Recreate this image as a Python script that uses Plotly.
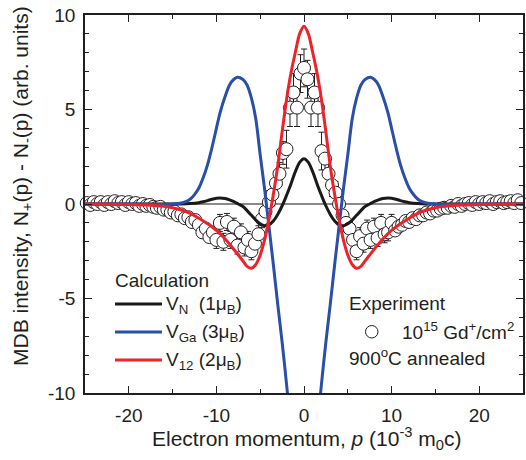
import plotly.graph_objects as go

# ---------------- data ----------------
P_EXP = [-25.6, -25.2, -24.8, -24.4, -24.0, -23.6, -23.2, -22.8, -22.4, -22.0, -21.6, -21.2,
         -20.8, -20.4, -20.0, -19.6, -19.2, -18.8, -18.4, -18.0, -17.6, -17.2,
         -16.8, -16.4, -16.0, -15.6, -15.2, -14.8, -14.4, -14.0, -13.6, -13.2,
         -12.8, -12.4, -12.0, -11.6, -11.2, -10.8, -10.4, -10.0, -9.6, -9.2,
         -8.8, -8.4, -8.0, -7.6, -7.2, -6.8, -6.4, -6.0, -5.6, -5.2,
         -4.8, -4.4, -4.0, -3.6, -3.2, -2.8, -2.4, -2.0, -1.6, -1.2,
         -0.8, -0.4, 0.0, 0.4, 0.8, 1.2, 1.6, 2.0, 2.4, 2.8,
         3.2, 3.6, 4.0, 4.4, 4.8, 5.2, 5.6, 6.0, 6.4, 6.8,
         7.2, 7.6, 8.0, 8.4, 8.8, 9.2, 9.6, 10.0, 10.4, 10.8,
         11.2, 11.6, 12.0, 12.4, 12.8, 13.2, 13.6, 14.0, 14.4, 14.8,
         15.2, 15.6, 16.0, 16.4, 16.8, 17.2, 17.6, 18.0, 18.4, 18.8,
         19.2, 19.6, 20.0, 20.4, 20.8, 21.2, 21.6, 22.0, 22.4, 22.8,
         23.2, 23.6, 24.0, 24.4, 24.8, 25.2]

Y_EXP = [0.0, 0.1, 0.05, -0.05, 0.1, 0.0, 0.1, -0.05, 0.1, 0.0, 0.15, 0.05,
         0.1, -0.05, 0.1, 0.0, 0.05, -0.1, 0.0, -0.1, -0.05, -0.15,
         -0.2, -0.15, -0.3, -0.3, -0.45, -0.4, -0.6, -0.55, -0.75, -0.7,
         -0.95, -0.85, -1.1, -1.5, -1.3, -1.75, -1.5, -1.9, -1.0, -2.0,
         -0.95, -1.9, -1.2, -2.2, -1.5, -2.3, -1.9, -2.5, -2.1, -1.6,
         -0.8, -0.4, 0.1, 0.5, 1.1, 1.6, 2.7, 2.9, 5.1, 5.9,
         5.1, 6.9, 7.2, 6.6, 5.1, 5.9, 5.1, 2.8, 2.4, 1.6,
         1.0, 0.6, 0.0, -0.6, -1.0, -1.3, -1.9, -2.5, -1.7, -2.1,
         -1.3, -1.9, -1.2, -1.8, -1.0, -1.6, -1.5, -1.0, -1.4, -1.2,
         -1.1, -0.9, -0.95, -0.75, -0.8, -0.6, -0.6, -0.45, -0.5, -0.35,
         -0.35, -0.25, -0.2, -0.2, -0.1, -0.15, 0.0, -0.1, 0.0, 0.05,
         -0.05, 0.1, 0.0, 0.1, 0.05, 0.15, 0.0, 0.1, 0.15, 0.05,
         0.1, 0.15, 0.05, 0.2, 0.05, 0.1]

ERR_EXP = [0.15, 0.15, 0.15, 0.15, 0.15, 0.15, 0.15, 0.15, 0.15, 0.15, 0.15, 0.15,
           0.15, 0.15, 0.15, 0.15, 0.15, 0.15, 0.15, 0.15, 0.15, 0.15,
           0.15, 0.15, 0.25, 0.25, 0.25, 0.25, 0.25, 0.25, 0.25, 0.25,
           0.25, 0.25, 0.25, 0.25, 0.25, 0.25, 0.25, 0.45, 0.45, 0.45,
           0.45, 0.45, 0.45, 0.45, 0.45, 0.45, 0.45, 0.45, 0.45, 0.45,
           0.45, 0.45, 0.6, 0.6, 0.6, 0.6, 0.6, 1.0, 1.0, 1.0,
           1.0, 1.0, 1.0, 1.0, 1.0, 1.0, 1.0, 1.0, 0.6, 0.6,
           0.6, 0.6, 0.6, 0.45, 0.45, 0.45, 0.45, 0.45, 0.45, 0.45,
           0.45, 0.45, 0.45, 0.45, 0.45, 0.45, 0.45, 0.45, 0.25, 0.25,
           0.25, 0.25, 0.25, 0.25, 0.25, 0.25, 0.25, 0.25, 0.25, 0.25,
           0.25, 0.25, 0.25, 0.15, 0.15, 0.15, 0.15, 0.15, 0.15, 0.15,
           0.15, 0.15, 0.15, 0.15, 0.15, 0.15, 0.15, 0.15, 0.15, 0.15,
           0.15, 0.15, 0.15, 0.15, 0.15, 0.15]

# calculated curves (half, p >= 0; curves are symmetric in p)
P_VN = [0.0, 0.5, 1.0, 1.5, 2.0, 2.4, 3.0, 3.5, 4.0, 4.5, 5.0, 5.5, 6.0, 6.5,
        7.0, 7.5, 8.0, 8.5, 9.0, 9.6, 10.0, 10.5, 11.0, 11.5, 12.0, 13.0, 14.0, 20.0, 25.0]
Y_VN = [2.4, 2.2, 1.7, 1.05, 0.45, 0.0, -0.55, -0.9, -1.1, -1.15, -1.05, -0.85, -0.6, -0.35,
        -0.12, 0.0, 0.12, 0.22, 0.29, 0.32, 0.3, 0.25, 0.18, 0.12, 0.07, 0.02, 0.0, 0.0, 0.0]

P_VGA = [0.0, 0.5, 1.0, 1.5, 2.0, 2.5, 3.0, 3.5, 4.0, 4.5, 5.0, 5.5, 6.0, 6.5, 7.0,
         7.6, 8.0, 8.5, 9.0, 9.6, 10.0, 10.5, 11.0, 11.5, 12.0, 12.5, 13.0, 13.5,
         14.0, 15.0, 16.0, 20.0, 25.0]
Y_VGA = [-20.0, -18.5, -15.5, -12.0, -9.5, -7.3, -5.3, -3.2, -1.2, 0.8, 2.6, 4.5, 5.6, 6.3, 6.6,
         6.7, 6.6, 6.3, 5.7, 4.8, 4.0, 3.0, 2.1, 1.4, 0.85, 0.5, 0.25, 0.12,
         0.05, 0.0, -0.02, 0.0, 0.0]

P_V12 = [0.0, 0.5, 1.0, 1.5, 2.0, 2.5, 3.0, 3.5, 4.0, 4.5, 5.0, 5.5, 6.0, 6.5, 7.0,
         8.0, 9.0, 10.0, 11.0, 12.0, 13.0, 14.0, 15.0, 16.0, 18.0, 20.0, 22.0, 25.0]
Y_V12 = [9.4, 9.0, 8.0, 6.9, 5.5, 3.8, 2.0, 0.5, -0.8, -1.9, -2.7, -3.2, -3.4, -3.3, -3.0,
         -2.4, -1.85, -1.4, -1.05, -0.75, -0.5, -0.32, -0.2, -0.12, -0.05, -0.02, -0.01, 0.0]

X_TICKS = [-20, -10, 0, 10, 20]
X_TICKTEXT = ["-20", "-10", "0", "10", "20"]
Y_TICKS = [-10, -5, 0, 5, 10]
Y_TICKTEXT = ["-10", "-5", "0", "5", "10"]

CALC_NAMES = ["V<sub>N</sub>  (1\u03bc<sub>B</sub>)",
              "V<sub>Ga</sub> (3\u03bc<sub>B</sub>)",
              "V<sub>12</sub> (2\u03bc<sub>B</sub>)"]
CALC_COLORS = ["#1a1a1a", "#2a4fa8", "#ee2229"]


def mirror(px, py):
    xs = [-v for v in reversed(px[1:])] + list(px)
    ys = list(reversed(py[1:])) + list(py)
    return xs, ys


FONT = "Liberation Sans, Arial, sans-serif"
TXT = "#231f20"
FS = 19
FS_TITLE = 21

fig = go.Figure()

fig.add_trace(go.Scatter(
    x=P_EXP, y=Y_EXP, mode="markers", cliponaxis=False,
    marker=dict(symbol="circle", size=13, color="white",
                line=dict(color="#231f20", width=1)),
    error_y=dict(type="data", array=ERR_EXP, visible=True,
                 color="#231f20", thickness=1, width=3),
    showlegend=False))

for (px, py), col in zip([(P_VN, Y_VN), (P_VGA, Y_VGA), (P_V12, Y_V12)], CALC_COLORS):
    xs, ys = mirror(px, py)
    fig.add_trace(go.Scatter(x=xs, y=ys, mode="lines",
                             line=dict(color=col, width=3, shape="spline", smoothing=0.8),
                             showlegend=False))

axis_common = dict(
    showline=True, linecolor="#231f20", linewidth=1.5, mirror="ticks",
    ticks="inside", ticklen=7, tickwidth=1.2, tickcolor="#231f20",
    showgrid=False, automargin=False, tickfont=dict(family=FONT, size=FS, color=TXT),
)

fig.update_xaxes(range=[-25, 25], tickvals=X_TICKS, ticktext=X_TICKTEXT,
                 minor=dict(dtick=5, tick0=0, ticks="inside", ticklen=4,
                            tickcolor="#231f20", showgrid=False),
                 zeroline=False, ticklabelstandoff=4,
                 **axis_common)
fig.update_yaxes(range=[-10, 10], tickvals=Y_TICKS, ticktext=Y_TICKTEXT,
                 minor=dict(dtick=1, tick0=0, ticks="inside", ticklen=4,
                            tickcolor="#231f20", showgrid=False),
                 zeroline=True, zerolinecolor="#8a8a8a", zerolinewidth=1.5,
                 ticklabelstandoff=4,
                 **axis_common)

# layout geometry (window pixels; page body margin is removed below)
W, H = 526, 460
L, R, T, B = 85, 3, 15, 67
pw, ph = W - L - R, H - T - B


def px2x(x):
    return (x - L) / pw


def px2y(y):
    return 1 - (y - T) / ph


def txt(x, y, s, anchor="left", angle=0, size=FS):
    return dict(x=px2x(x), y=px2y(y), xref="paper", yref="paper", text=s,
                showarrow=False, xanchor=anchor, yanchor="middle", textangle=angle,
                font=dict(family=FONT, size=size, color=TXT))


shapes = []
annotations = []
# axis titles
annotations.append(txt(307, 438, "Electron momentum, <i>p</i> (10<sup>-3</sup> m<sub>0</sub>c)",
                       anchor="center", size=FS_TITLE))
annotations.append(txt(22, 186, "MDB intensity, N<sub>+</sub>(p) - N<sub>-</sub>(p) (arb. units)",
                       anchor="center", angle=-90, size=FS_TITLE))

# legend
annotations.append(txt(113, 280, "Calculation"))
for i, (name, col) in enumerate(zip(CALC_NAMES, CALC_COLORS)):
    yy = 304 + 28 * i
    shapes.append(dict(type="line", xref="paper", yref="paper",
                       x0=px2x(115), x1=px2x(162), y0=px2y(yy), y1=px2y(yy),
                       line=dict(color=col, width=3)))
    annotations.append(txt(164, yy + 1, name))

annotations.append(txt(347, 303, "Experiment"))
shapes.append(dict(type="circle", xref="paper", yref="paper",
                   x0=px2x(365.5), x1=px2x(378), y0=px2y(338), y1=px2y(325.5),
                   line=dict(color="#231f20", width=1), fillcolor="white"))
annotations.append(txt(400, 331, "10<sup>15</sup> Gd<sup>+</sup>/cm<sup>2</sup>"))
annotations.append(txt(347, 357, "900<sup>o</sup>C annealed"))

fig.update_layout(
    width=W, height=H,
    margin=dict(l=L, r=R, t=T, b=B, pad=0),
    paper_bgcolor="white", plot_bgcolor="white",
    shapes=shapes, annotations=annotations,
    font=dict(family=FONT, size=FS, color=TXT),
)

fig.write_html("out.html",
               config={"displayModeBar": False},
               post_script="document.body.style.margin='0px';"
                           "document.body.style.overflow='hidden';")
